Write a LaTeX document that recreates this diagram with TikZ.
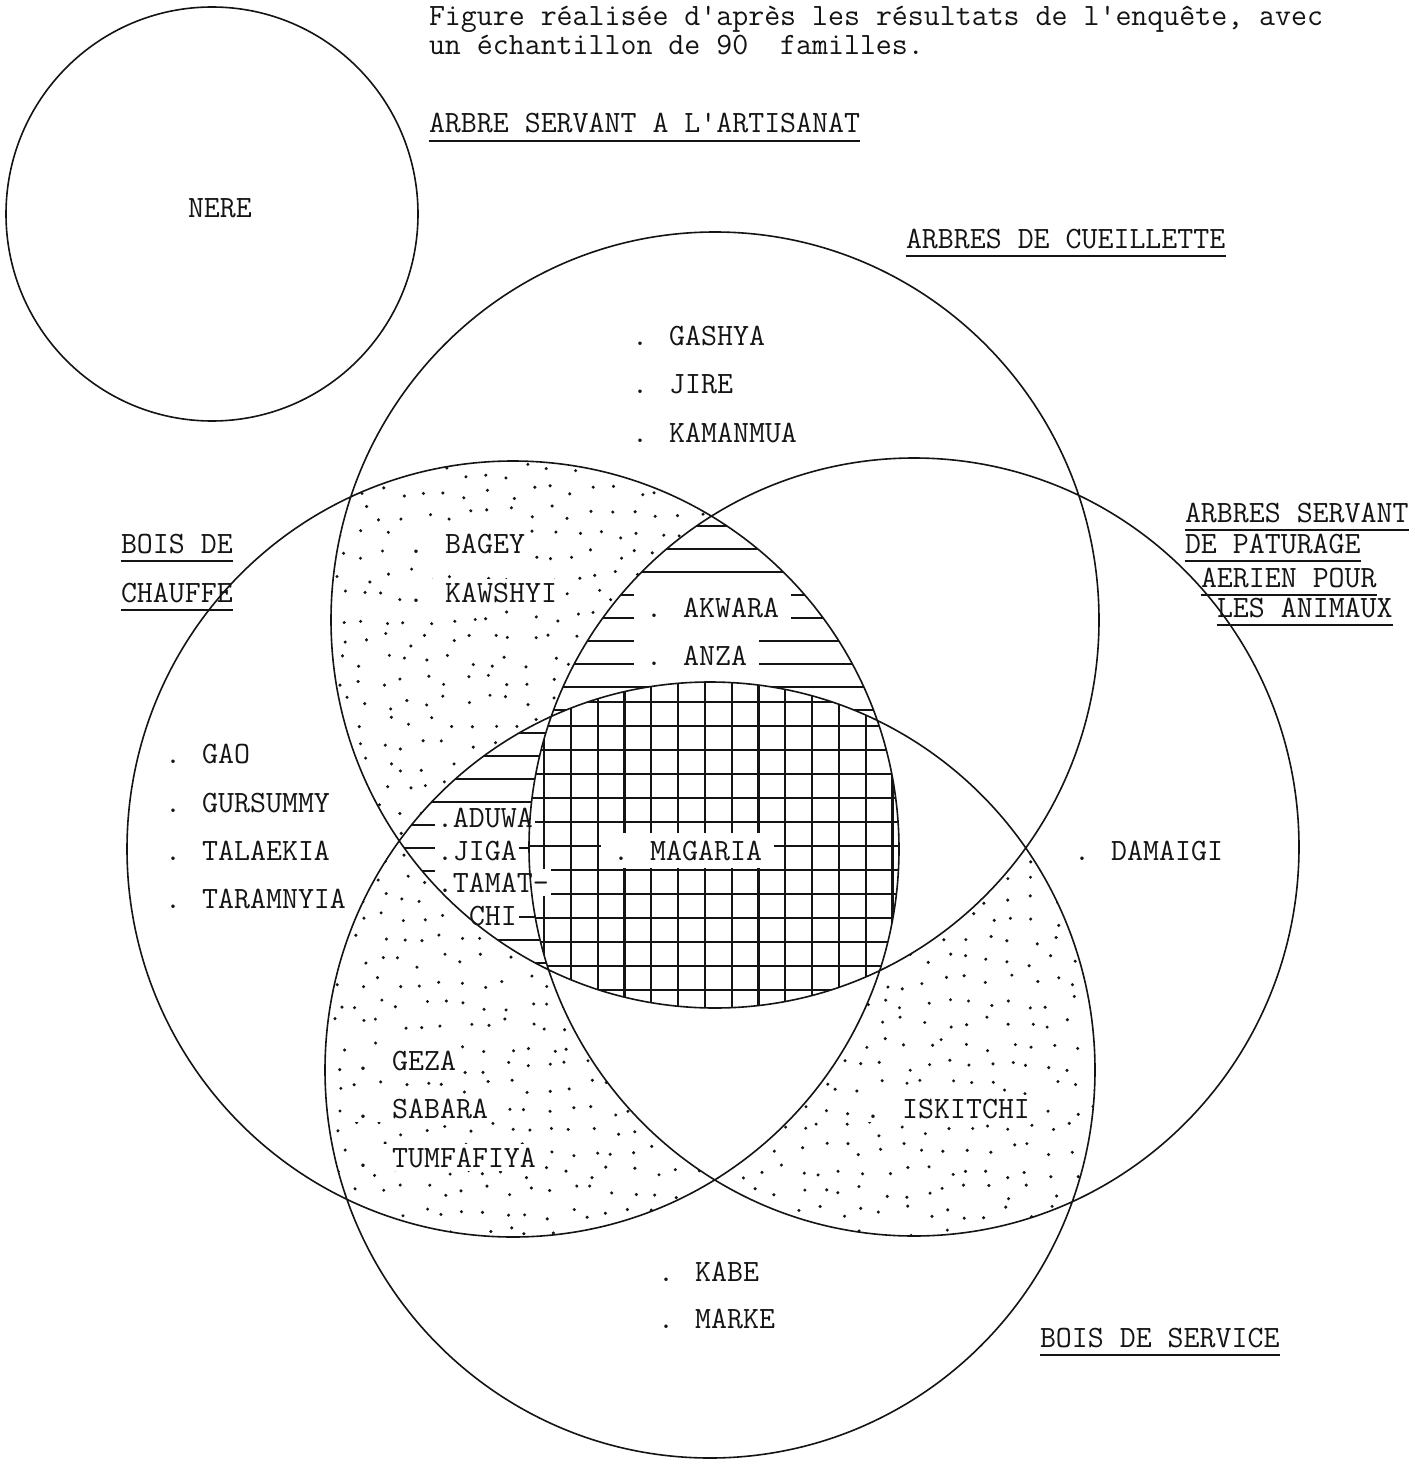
\documentclass[tikz,border=0pt]{standalone}
\usepackage{fontspec}

\definecolor{ink}{RGB}{20,20,20}
\definecolor{paper}{RGB}{255,255,255}
\tikzset{
    line cap=round,
    line join=round,
    typed/.style={
        font=\ttfamily\fontsize{15.5}{16}\selectfont\addfontfeatures{FakeBold=1.2},
        text=ink
    },
    heading/.style={
        typed,
        anchor=text,
        inner sep=0pt
    },
    item/.style={
        typed,
        anchor=text,
        fill=paper,
        inner xsep=2pt,
        inner ysep=2pt
    },
    gapitem/.style={
        item,
        inner xsep=6pt,
        inner ysep=4pt
    },
    setline/.style={
        draw=ink,
        line width=0.8pt
    },
    hatchline/.style={
        draw=ink,
        line width=1pt
    },
    gridline/.style={
        draw=ink,
        line width=1.1pt
    },
    speck/.style={
        fill=ink
    },
    underline/.style={
        draw=ink,
        line width=1.2pt
    }
}

\begin{document}
\begin{tikzpicture}[x=0.5pt, y=-0.5pt]
\def\sheetpath{(0,0) rectangle (1426,1461)}
\def\nerepath{(212,214) ellipse [x radius=206, y radius=207]}
\def\cuepath{(715,620) ellipse [x radius=384, y radius=388]}
\def\chauffepath{(513,849) ellipse [x radius=386, y radius=388]}
\def\patpath{(914,847) ellipse [x radius=385, y radius=389]}
\def\servpath{(710,1070) ellipse [x radius=385, y radius=388]}
\def\sprinkle#1#2{%
    \foreach \i in {0,...,19} {
        \foreach \j in {0,...,19} {
            \fill[speck] ({#1+21*\i+7*rand},{#2+21*\j+7*rand}) circle [radius=1.7];
        }
    }
}
\useasboundingbox[fill=paper] \sheetpath;
\pgfmathsetseed{7}

% Dotted regions
\begin{scope}[even odd rule]
    \clip \chauffepath; \clip \cuepath;
    \clip \sheetpath \patpath;
    \clip \sheetpath \servpath;
    \sprinkle{322}{450}
\end{scope}
\begin{scope}[even odd rule]
    \clip \chauffepath; \clip \servpath;
    \clip \sheetpath \cuepath;
    \clip \sheetpath \patpath;
    \sprinkle{318}{835}
\end{scope}
\begin{scope}[even odd rule]
    \clip \patpath; \clip \servpath;
    \clip \sheetpath \chauffepath;
    \clip \sheetpath \cuepath;
    \sprinkle{695}{835}
\end{scope}

% Horizontal hatching
\begin{scope}[even odd rule]
    \clip \chauffepath; \clip \cuepath;
    \clip \patpath \servpath;
    \foreach \k in {0,...,20}
        \draw[hatchline] (330,{526+23*\k}) -- (910,{526+23*\k});
\end{scope}

% Grid where all four sets meet
\begin{scope}
    \clip \chauffepath; \clip \cuepath; \clip \patpath; \clip \servpath;
    \foreach \k in {0,...,13}
        \draw[gridline] ({544+26.8*\k},670) -- ({544+26.8*\k},1020);
    \foreach \k in {0,...,14}
        \draw[gridline] (520,{678+24*\k}) -- (910,{678+24*\k});
\end{scope}

% Headings
\node[heading] (captionA) at (429,26) {Figure réalisée d'après les résultats de l'enquête, avec};
\node[heading] (captionB) at (429,55) {un échantillon de 90\ \ familles.};
\node[heading] (artisanat) at (429,133) {ARBRE SERVANT A L'ARTISANAT};
\node[heading] (nere) at (188,217) {NERE};
\node[heading] (cueillette) at (906,248) {ARBRES DE CUEILLETTE};
\node[heading] (chauffeA) at (121,553) {BOIS DE};
\node[heading] (chauffeB) at (121,602) {CHAUFFE};
\foreach \n/\x/\y/\txt in {paturageA/1185/522/ARBRES SERVANT, paturageB/1185/553/DE PATURAGE,
        paturageC/1201/587/AERIEN POUR, paturageD/1217/617/LES ANIMAUX}
    \node[heading] (\n) at (\x,\y) {\txt};
\node[heading] (service) at (1040,1347) {BOIS DE SERVICE};

% Species
\foreach \n/\y/\txt in {gashya/345/GASHYA, jire/393/JIRE, kamanmua/442/KAMANMUA}
    \node[item] (\n) at (632,\y) {. \txt};
\foreach \n/\y/\txt in {bagey/553/BAGEY, kawshyi/602/KAWSHYI}
    \node[item] (\n) at (408,\y) {. \txt};
\foreach \n/\y/\txt in {akwara/617/AKWARA, anza/665/ANZA}
    \node[gapitem] (\n) at (646,\y) {. \txt};
\foreach \n/\y/\txt in {gao/763/GAO, gursummy/812/GURSUMMY, talaekia/860/TALAEKIA, taramnyia/908/TARAMNYIA}
    \node[item] (\n) at (165,\y) {. \txt};
\foreach \n/\y/\txt in {aduwa/827/ADUWA, jiga/860/JIGA, tamat/892/TAMAT-}
    \node[item, inner xsep=1pt] (\n) at (437,\y) {.\txt};
\node[item, inner xsep=1pt] (chi) at (469,925) {CHI};
\node[gapitem] (magaria) at (613,860) {. MAGARIA};
\node[item] (damaigi) at (1074,860) {. DAMAIGI};
\foreach \n/\y/\txt in {geza/1070/GEZA, sabara/1118/SABARA, tumfafiya/1167/TUMFAFIYA}
    \node[item] (\n) at (355,\y) {. \txt};
\node[item] (iskitchi) at (865,1118) {. ISKITCHI};
\foreach \n/\y/\txt in {kabe/1281/KABE, marke/1328/MARKE}
    \node[item] (\n) at (658,\y) {. \txt};

% Set outlines
\draw[setline] \nerepath \cuepath \chauffepath \patpath \servpath;

% Underlined set names
\foreach \n in {artisanat, cueillette, chauffeA, chauffeB, paturageA, paturageB, paturageC, paturageD, service}
    \draw[underline] ([yshift=-4pt]\n.base west) -- ([yshift=-4pt]\n.base east);
\end{tikzpicture}
\end{document}
